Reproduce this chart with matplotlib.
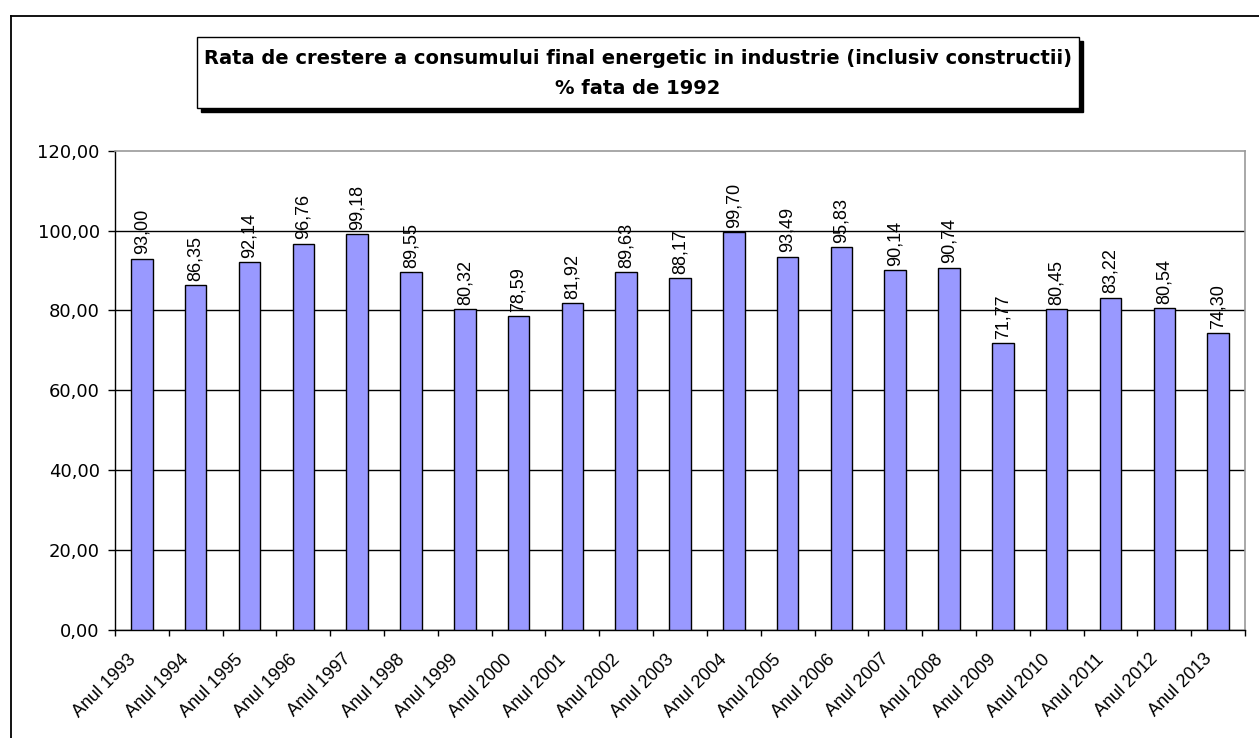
import numpy as np
import matplotlib.pyplot as plt
from matplotlib.patches import Rectangle
from matplotlib.lines import Line2D
from matplotlib.ticker import FuncFormatter
import matplotlib.transforms as mtransforms

plt.rcParams['font.family'] = ['Liberation Sans', 'DejaVu Sans']

# date: rata de crestere (% fata de 1992)
ani = list(range(1993, 2014))
etichete = [f"Anul {a}" for a in ani]
valori = [93.00, 86.35, 92.14, 96.76, 99.18, 89.55, 80.32, 78.59, 81.92, 89.63,
          88.17, 99.70, 93.49, 95.83, 90.14, 90.74, 71.77, 80.45, 83.22, 80.54, 74.30]

W, H = 1259, 738
fig = plt.figure(figsize=(W / 100, H / 100), dpi=100)
fig.patch.set_facecolor('white')

def px(x0, y0, w, h):
    # dreptunghi in pixeli (origine sus-stanga) -> coordonate figura
    return [x0 / W, 1 - (y0 + h) / H, w / W, h / H]

# chenarul exterior al diagramei
fig.add_artist(Line2D([11 / W, 11 / W], [0, 1 - 16 / H], color='black', lw=1.3,
                      transform=fig.transFigure))
fig.add_artist(Line2D([11 / W, 1], [1 - 16 / H, 1 - 16 / H], color='black', lw=1.3,
                      transform=fig.transFigure))

# caseta titlului cu umbra
bx, by, bw, bh = 197, 37, 882, 71
for (dx, dy, fc) in [(4, 4, 'black'), (0, 0, 'white')]:
    r = px(bx + dx, by + dy, bw, bh)
    fig.add_artist(Rectangle((r[0], r[1]), r[2], r[3], transform=fig.transFigure,
                             facecolor=fc, edgecolor='black', lw=1.0))
cx = (bx + bw / 2) / W
titlu_font = dict(ha='center', va='center', fontsize=14, fontweight='bold', family='DejaVu Sans')
fig.text(cx, 1 - 59 / H, "Rata de crestere a consumului final energetic in industrie (inclusiv constructii)",
         **titlu_font)
fig.text(cx, 1 - 89 / H, "% fata de 1992", **titlu_font)

ax = fig.add_axes(px(115, 150.7, 1130, 479.3))
x = np.arange(len(valori))
ax.bar(x, valori, width=0.4, color='#9999FF', edgecolor='black', linewidth=1.0, zorder=3)

for xi, v in zip(x, valori):
    ax.annotate(f"{v:.2f}".replace('.', ','), (xi, v), xytext=(0, 3), textcoords='offset points',
                rotation=90, ha='center', va='bottom', fontsize=13, zorder=4)

ax.set_xlim(-0.5, len(valori) - 0.5)
ax.set_ylim(0, 120)
ax.set_yticks(np.arange(0, 121, 20))
ax.yaxis.set_major_formatter(FuncFormatter(lambda v, p: f"{v:.2f}".replace('.', ',')))
ax.grid(axis='y', color='black', lw=1.0, zorder=1)
ax.yaxis.get_gridlines()[-1].set_visible(False)

ax.set_xticks(x)
ax.set_xticklabels(etichete, rotation=45, ha='right', va='top', rotation_mode='anchor')
ax.set_xticks(np.arange(-0.5, len(valori), 1), minor=True)
ax.tick_params(axis='x', which='major', length=0, pad=15, labelsize=13)
ax.tick_params(axis='x', which='minor', length=4.5, width=1.0, direction='out')
ax.tick_params(axis='y', length=5, width=1.0, pad=6, labelsize=13)
for lab in ax.get_yticklabels():
    lab.set_family('DejaVu Sans')

shift = mtransforms.ScaledTranslation(-15 / 100, 0, fig.dpi_scale_trans)
for lab in ax.get_xticklabels():
    lab.set_transform(lab.get_transform() + shift)

for s in ['left', 'bottom']:
    ax.spines[s].set_color('black')
    ax.spines[s].set_linewidth(1.0)
for s in ['top', 'right']:
    ax.spines[s].set_color('#999999')
    ax.spines[s].set_linewidth(1.2)

fig.savefig('out.png', dpi=100)
